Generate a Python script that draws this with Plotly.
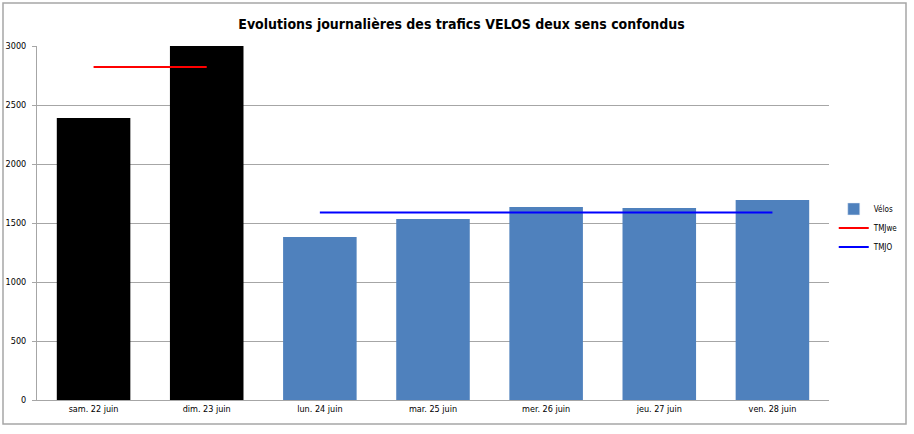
import plotly.graph_objects as go

categories = ["sam. 22 juin", "dim. 23 juin", "lun. 24 juin", "mar. 25 juin",
              "mer. 26 juin", "jeu. 27 juin", "ven. 28 juin"]
velos = [2390, 3254, 1381, 1534, 1636, 1627, 1695]
bar_colors = ["#000000", "#000000", "#4F81BD", "#4F81BD", "#4F81BD", "#4F81BD", "#4F81BD"]
we_days = ["sam. 22 juin", "dim. 23 juin"]
tmj_we = [2822, 2822]
wk_days = ["lun. 24 juin", "mar. 25 juin", "mer. 26 juin", "jeu. 27 juin", "ven. 28 juin"]
tmjo = [1590, 1590, 1590, 1590, 1590]
y_ticks = [0, 500, 1000, 1500, 2000, 2500, 3000]

font_family = "DejaVu Sans Condensed, Liberation Sans, sans-serif"

fig = go.Figure()
# legend-only swatch for Vélos (blue)
fig.add_trace(go.Bar(x=[None], y=[None], name="Vélos", marker=dict(color="#4F81BD")))
fig.add_trace(go.Bar(x=categories, y=velos, name="Vélos", showlegend=False,
                     marker=dict(color=bar_colors, line=dict(width=0)),
                     width=0.65))
fig.add_trace(go.Scatter(x=we_days, y=tmj_we, name="TMJwe", mode="lines",
                         line=dict(color="#FF0000", width=2)))
fig.add_trace(go.Scatter(x=wk_days, y=tmjo, name="TMJO", mode="lines",
                         line=dict(color="#0000FF", width=2)))

fig.update_layout(
    width=914, height=434,
    margin=dict(l=37, r=85, t=46, b=34, autoexpand=False),
    paper_bgcolor="white", plot_bgcolor="white",
    font=dict(family=font_family, size=9, color="#000000"),
    title=dict(text="<b>Evolutions journalières des trafics VELOS deux sens confondus</b>",
               x=0.505, xanchor="center", y=0.945, yanchor="middle",
               font=dict(family=font_family, size=14, color="#000000")),
    barmode="overlay",
    showlegend=True,
    legend=dict(x=1.006, y=0.486, xanchor="left", yanchor="middle",
                font=dict(size=8), bgcolor="rgba(0,0,0,0)",
                itemwidth=30, tracegroupgap=4, traceorder="normal"),
    xaxis=dict(type="category", categoryorder="array", categoryarray=categories,
               showline=True, linecolor="#A6A6A6", linewidth=1,
               showgrid=False, ticks="", tickfont=dict(size=9)),
    yaxis=dict(range=[0, 3000], tickvals=y_ticks, showgrid=True, gridcolor="#A6A6A6",
               gridwidth=1, showline=True, linecolor="#A6A6A6", linewidth=1,
               ticks="outside", ticklen=4, tickcolor="#A6A6A6",
               ticklabelstandoff=4,
               tickfont=dict(size=9), zeroline=False),
    shapes=[dict(type="rect", xref="paper", yref="paper",
                 x0=(3 - 37) / 792, x1=(906 - 37) / 792,
                 y0=(400 - 424) / 354, y1=(400 - 3) / 354,
                 line=dict(color="#A6A6A6", width=1.5), fillcolor="rgba(0,0,0,0)",
                 layer="below")],
)

fig.write_html("out.html", config={"displayModeBar": False},
               post_script="document.body.style.margin='0';")
